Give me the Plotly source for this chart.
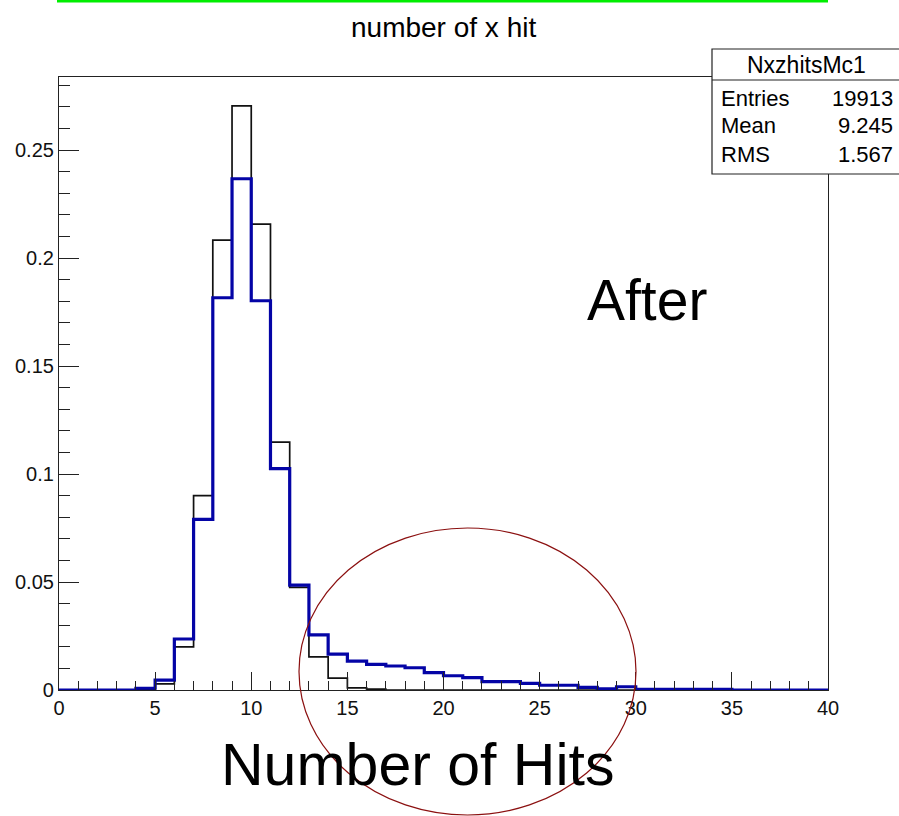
import plotly.graph_objects as go

# ---- data (bin contents, unit-width bins from 0 to 40) ----
bin_edges = list(range(0, 41))
before_vals = [0, 0, 0, 0, 0.0003, 0.0028, 0.0200, 0.0900, 0.2083, 0.2704,
               0.2157, 0.1148, 0.0475, 0.0153, 0.0055, 0.0010, 0.0004, 0, 0, 0,
               0, 0, 0, 0, 0, 0, 0, 0, 0, 0,
               0, 0, 0, 0, 0, 0, 0, 0, 0, 0]
after_vals = [0, 0, 0, 0, 0.0008, 0.0046, 0.0236, 0.0790, 0.1816, 0.2367,
              0.1802, 0.1025, 0.0486, 0.0255, 0.0166, 0.0134, 0.0119, 0.0111, 0.0103, 0.0080,
              0.0066, 0.0057, 0.0039, 0.0039, 0.0031, 0.0022, 0.0022, 0.0012, 0.0005, 0.0015,
              0.0003, 0.0003, 0.0003, 0.0003, 0.0003, 0, 0, 0, 0, 0]
x_ticks = [0, 5, 10, 15, 20, 25, 30, 35, 40]
y_ticks = [0, 0.05, 0.1, 0.15, 0.2, 0.25]
y_tick_text = ["0", "0.05", "0.1", "0.15", "0.2", "0.25"]
stats_title = "NxzhitsMc1"
stats_names = ["Entries", "Mean", "RMS"]
stats_values = ["19913", "9.245", "1.567"]

W, H = 899, 816
L, R, T, B = 59, 828, 77, 690
FONT = "Liberation Sans, Arial, sans-serif"


def px(x):
    return (x - L) / (R - L)


def py(y):
    return (B - y) / (B - T)


fig = go.Figure()
fig.add_trace(go.Scatter(
    x=bin_edges, y=before_vals + [before_vals[-1]], mode="lines", line_shape="hv",
    line=dict(color="#111111", width=1.7), hoverinfo="skip", showlegend=False))
fig.add_trace(go.Scatter(
    x=bin_edges, y=after_vals + [after_vals[-1]], mode="lines", line_shape="hv",
    line=dict(color="#0404a6", width=3.2), hoverinfo="skip", showlegend=False))

axis_common = dict(showgrid=False, zeroline=False, showline=True, linecolor="#222222",
                   linewidth=1.2, mirror=True, ticks="inside", tickcolor="#222222",
                   tickwidth=1.2, tickfont=dict(family=FONT, size=20, color="#111111"))
fig.update_xaxes(range=[0, 40], tickvals=x_ticks, ticklen=18,
                 minor=dict(dtick=1, ticklen=9, ticks="inside", tickcolor="#222222", tickwidth=1.2),
                 **axis_common)
fig.update_yaxes(range=[0, 0.2838], tickvals=y_ticks, ticktext=y_tick_text, ticklen=20,
                 minor=dict(dtick=0.01, ticklen=11, ticks="inside", tickcolor="#222222", tickwidth=1.2),
                 **axis_common)

shapes = [
    # green line at top
    dict(type="line", xref="paper", yref="paper", x0=px(57), x1=px(828), y0=py(1), y1=py(1),
         line=dict(color="#00ee00", width=3)),
    # red ellipse
    dict(type="circle", xref="paper", yref="paper", x0=px(299), x1=px(636), y0=py(815), y1=py(528),
         line=dict(color="#8b1010", width=1.2)),
    # stats box
    dict(type="rect", xref="paper", yref="paper", x0=px(712), x1=px(905), y0=py(174), y1=py(49),
         line=dict(color="#222222", width=1.2), fillcolor="white"),
    dict(type="line", xref="paper", yref="paper", x0=px(712), x1=px(905), y0=py(80), y1=py(80),
         line=dict(color="#222222", width=1.2)),
]

annotations = [
    dict(text="number of x hit", x=px(443), y=py(27), font=dict(size=28)),
    dict(text=stats_title, x=px(806), y=py(65), font=dict(size=23)),
    dict(text="After", x=px(647), y=py(300), font=dict(size=57)),
    dict(text="Number of Hits", x=px(417), y=py(765), font=dict(size=59)),
]
row_y = [98, 126, 154]
for name, val, yy in zip(stats_names, stats_values, row_y):
    annotations.append(dict(text=name, x=px(719), y=py(yy), xanchor="left", font=dict(size=22)))
    annotations.append(dict(text=val, x=px(895), y=py(yy), xanchor="right", font=dict(size=22)))

for a in annotations:
    a.update(xref="paper", yref="paper", showarrow=False,
             yanchor=a.get("yanchor", "middle"), xanchor=a.get("xanchor", "center"))
    a["font"].update(family=FONT, color="black")

fig.update_layout(
    width=W, height=H, margin=dict(l=L, r=W - R, t=T, b=H - B),
    paper_bgcolor="white", plot_bgcolor="white",
    shapes=shapes, annotations=annotations, showlegend=False,
)

fig.write_html("out.html")
